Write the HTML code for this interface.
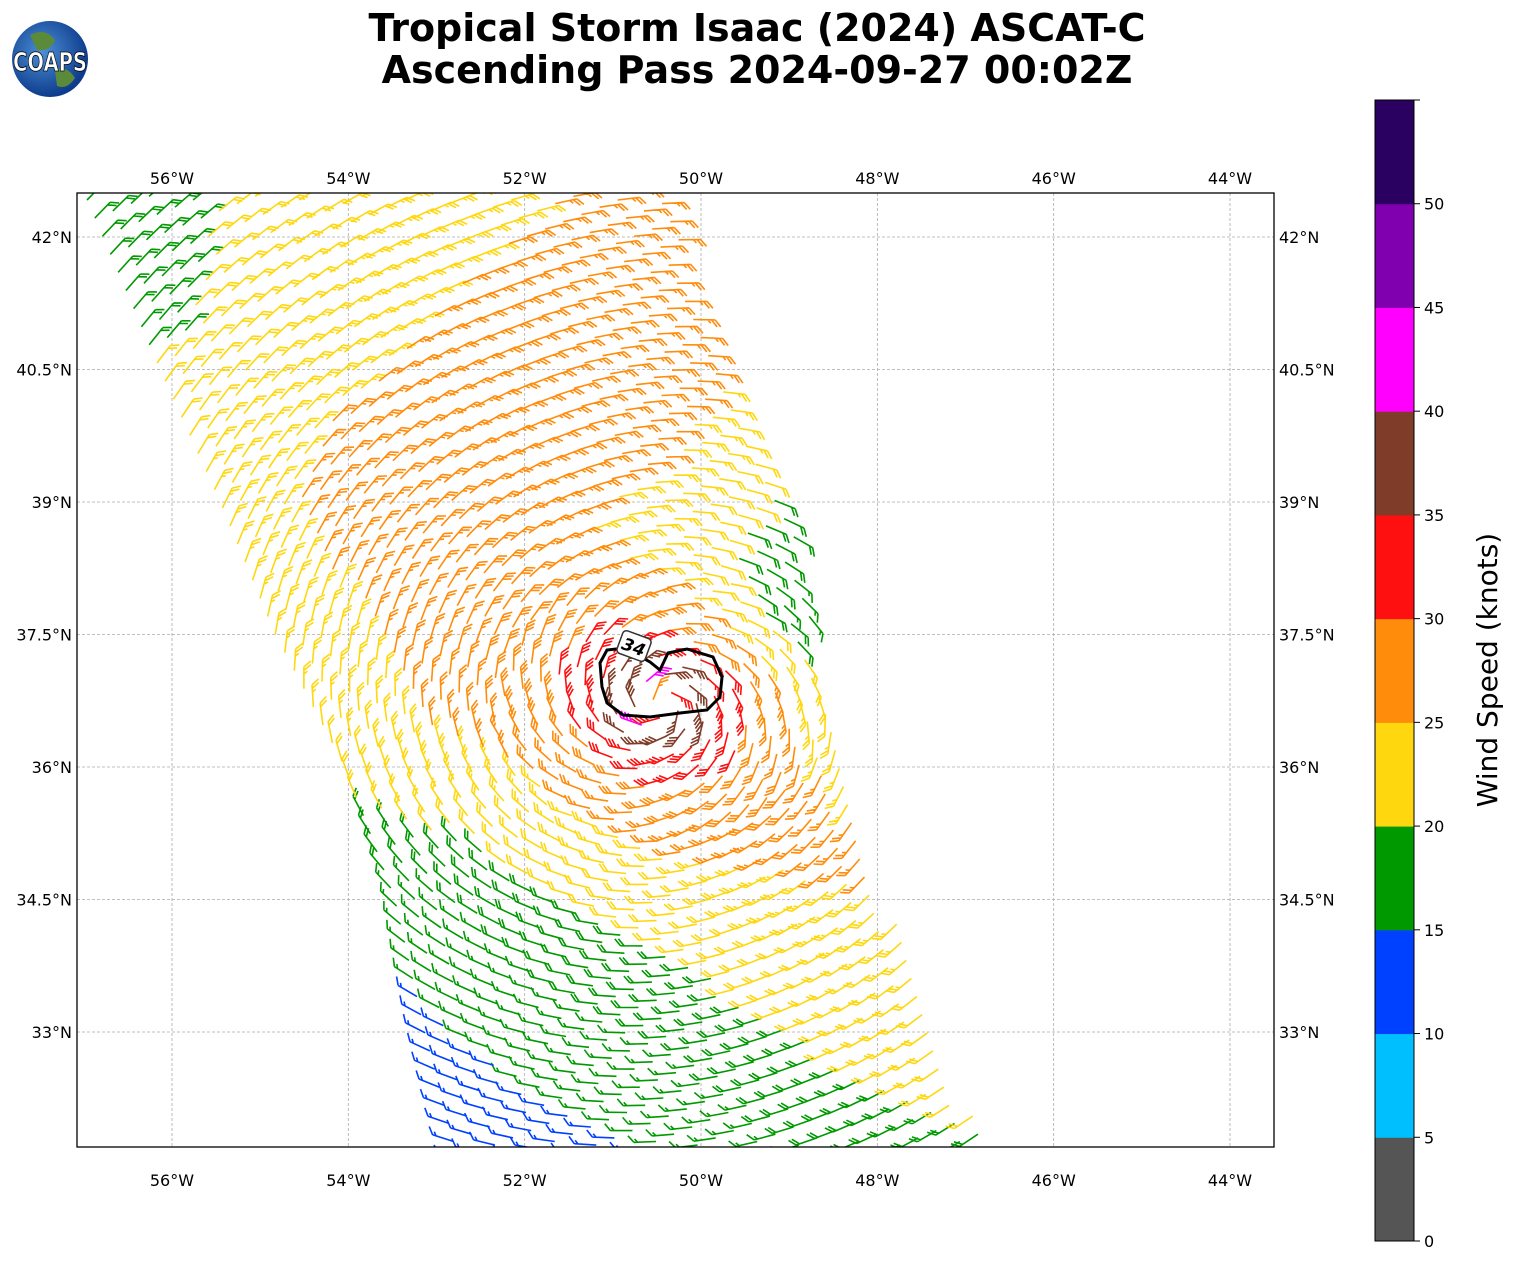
<!DOCTYPE html>
<html><head><meta charset="utf-8"><style>
body{margin:0;background:#fff;width:1513px;height:1264px;overflow:hidden;font-family:"DejaVu Sans","Liberation Sans",sans-serif;}
svg text{font-family:"DejaVu Sans","Liberation Sans",sans-serif;}
</style></head><body>
<svg id="chart" width="1513" height="1264" xmlns="http://www.w3.org/2000/svg">
<defs><clipPath id="plotclip"><rect x="77" y="193" width="1197" height="954"/></clipPath>
<radialGradient id="globe" cx="40%" cy="40%" r="60%"><stop offset="0" stop-color="#4d8fd6"/><stop offset="1" stop-color="#0d3c8c"/></radialGradient></defs>
<g>
<circle cx="50" cy="59" r="38" fill="url(#globe)"/>
<path d="M30 35 q15 -8 25 5 q-5 12 -18 10 z M55 70 q12 -5 20 8 q-8 12 -18 8 z" fill="#5b8a3a"/>
<text x="50" y="71" text-anchor="middle" font-size="26" font-weight="bold" fill="#fff" stroke="#000" stroke-width="0.8" textLength="74" lengthAdjust="spacingAndGlyphs">COAPS</text>
</g>
<text x="757" y="41" text-anchor="middle" font-size="38" font-weight="bold">Tropical Storm Isaac (2024) ASCAT-C</text>
<text x="757" y="83" text-anchor="middle" font-size="38" font-weight="bold">Ascending Pass 2024-09-27 00:02Z</text>
<g id="grid"></g>
<g id="barbs" clip-path="url(#plotclip)"></g>
<g>
<path d="M600 663 L607 650 L625 648 L650 662 L660 670 L668 653 L687 649 L713 657 L722 677 L720 697 L707 710 L680 713 L650 717 L623 715 L607 703 L602 687 Z" fill="none" stroke="#000" stroke-width="3"/>
<g transform="translate(634,646) rotate(20)"><rect x="-15" y="-12" width="30" height="24" rx="4" fill="#fff" stroke="#333" stroke-width="1.5"/><text x="0" y="7" text-anchor="middle" font-size="17" font-weight="bold" font-style="italic">34</text></g>
</g>
<rect x="77" y="193" width="1197" height="954" fill="none" stroke="#000" stroke-width="1.3"/>
<g id="ticks"></g>
<g id="cbar"></g>
<text transform="translate(1497,670) rotate(-90)" text-anchor="middle" font-size="28">Wind Speed (knots)</text>
</svg>
<script>
const lonTicks=[-56,-54,-52,-50,-48,-46,-44];
const latTicks=[33,34.5,36,37.5,39,40.5,42];
const cbarLevels=[0,5,10,15,20,25,30,35,40,45,50];
const cbarColors=["#555555","#00bfff","#0040ff","#009900","#ffd70f","#ff8c0a","#ff1010","#7f3c28","#ff00ff","#8000b0","#2a0060"];
const stormCenter=[-50.47,36.72];
const profileRadii=[0,0.25,0.45,0.7,1,1.5,2,3,4,5,6,8];
const speedE =[20,42,36,31,26,21,19,20,21,21,21,21];
const speedNE=[20,42,36,30,25,17,16,16,19,23,23,23];
const speedN =[20,42,36,31,28,24,23,26,27,27,26,24];
const speedNW=[20,42,36,32,30,28,28,27,26,23,20,17];
const speedW =[20,42,36,32,30,28,26,23,22,21,20,18];
const speedSW=[20,42,36,31,27,24,21,17,14,12,12,12];
const speedS =[20,42,36,32,29,26,22,19,17,15,15,15];
const speedSE=[20,42,36,32,30,29,27,25,24,23,22,20];
// swath edges (screen px): [y, x]
const leftEdge=[[-200,-80],[200,87],[370,160],[502,220],[634,275],[767,345],[899,395],[1032,425],[1147,455],[1500,560]];
const rightEdge=[[-200,575],[193,680],[370,727],[502,800],[634,825],[767,867],[899,900],[1032,957],[1147,995],[1500,1105]];
const NS="http://www.w3.org/2000/svg";
const X=lon=>701+(lon+50)*88.17, Y=lat=>237+(42-lat)*88.33;
const LON=x=>-50+(x-701)/88.17, LAT=y=>42-(y-237)/88.33;
function mk(tag,attrs,parent){const e=document.createElementNS(NS,tag);for(const k in attrs)e.setAttribute(k,attrs[k]);parent.appendChild(e);return e;}
const grid=document.getElementById('grid'),ticks=document.getElementById('ticks');
lonTicks.forEach(l=>{
 const g=mk('line',{x1:X(l),x2:X(l),y1:193,y2:1147,stroke:'#aaa','stroke-width':0.8,'stroke-dasharray':'3,2'},grid);
 
 
 const lab=(-l)+'°W';
 [[168,'top'],[1170,'bottom']].forEach(p=>{const t=mk('text',{x:X(l),y:p[0]+16,'text-anchor':'middle','font-size':16},ticks);t.textContent=lab;
 
 });
});
latTicks.forEach(l=>{
 const g=mk('line',{x1:77,x2:1274,y1:Y(l),y2:Y(l),stroke:'#aaa','stroke-width':0.8,'stroke-dasharray':'3,2'},grid);
 
 
 const lab=l+'°N';
 const t1=mk('text',{x:72,y:Y(l)+6,'text-anchor':'end','font-size':16},ticks);t1.textContent=lab;
 
 
 const t2=mk('text',{x:1279,y:Y(l)+6,'text-anchor':'start','font-size':16},ticks);t2.textContent=lab;
 
 
});
const cb=document.getElementById('cbar');const cbTop=100,cbBot=1241,nb=cbarColors.length,bh=(cbBot-cbTop)/nb;
cbarColors.forEach((c,i)=>{const r=mk('rect',{x:1375,y:cbBot-(i+1)*bh,width:39,height:bh+0.5,fill:c},cb);
 
 });
mk('rect',{x:1375,y:cbTop,width:39,height:cbBot-cbTop,fill:'none',stroke:'#000','stroke-width':1},cb);
cbarLevels.forEach((v,i)=>{const y=cbBot-i*bh;mk('line',{x1:1414,x2:1420,y1:y,y2:y,stroke:'#000'},cb);
 const t=mk('text',{x:1424,y:y+6,'font-size':16},cb);t.textContent=v;
 
 });
mk('line',{x1:1414,x2:1420,y1:cbTop,y2:cbTop,stroke:'#000'},cb);
function interp(arr,r){for(let i=1;i<profileRadii.length;i++){if(r<=profileRadii[i]){const f=(r-profileRadii[i-1])/(profileRadii[i]-profileRadii[i-1]);return arr[i-1]+f*(arr[i]-arr[i-1]);}}return arr[arr.length-1];}
function edgeX(edge,y){for(let i=1;i<edge.length;i++){if(y<=edge[i][0]){const f=(y-edge[i-1][0])/(edge[i][0]-edge[i-1][0]);return edge[i-1][1]+f*(edge[i][1]-edge[i-1][1]);}}return edge[edge.length-1][1];}
const dirProfiles=[speedE,speedNE,speedN,speedNW,speedW,speedSW,speedS,speedSE,speedE];
function speedAt(lon,lat){
 const dx=(lon-stormCenter[0])*Math.cos(37*Math.PI/180),dy=lat-stormCenter[1];
 const r=Math.hypot(dx,dy);let a=Math.atan2(dy,dx)*180/Math.PI;if(a<0)a+=360;
 const i=Math.min(7,Math.floor(a/45)),f=(a-i*45)/45;
 return {s:interp(dirProfiles[i],r)*(1-f)+interp(dirProfiles[i+1],r)*f,dx,dy,r};
}
const paths={};
const ux=0.4,uy=1,un=Math.hypot(ux,uy),U=[ux/un,uy/un],C=[U[1],-U[0]],sp=19.5;
for(let yL=200-sp*U[1]*2;yL<1400;yL+=sp*U[1]){
 const xL=edgeX(leftEdge,yL);
 for(let k=0;k<40;k++){
  const px=xL+k*sp*C[0],py=yL+k*sp*C[1];
  if(px>edgeX(rightEdge,py)-12)break;
  if(px<60||px>1285||py<180||py>1160)continue;
  const w=speedAt(LON(px),LAT(py));let spd=w.s;
  const rr=w.r||1e-3;const inflow=rr<1.5?0.25:0.05;
  let vx=(-w.dy-inflow*w.dx)/rr,vy=(w.dx-inflow*w.dy)/rr;
  let sx=-vx,sy=vy;const sn=Math.hypot(sx,sy);sx/=sn;sy/=sn;
  const L=22,tx=px+sx*L,ty=py+sy*L;
  const ang=50*Math.PI/180;
  const fx=sx*Math.cos(ang)-sy*Math.sin(ang),fy=sx*Math.sin(ang)+sy*Math.cos(ang);
  const ci=Math.min(nb-1,Math.floor(spd/5));const col=cbarColors[ci];
  let d=`M${px.toFixed(1)} ${py.toFixed(1)}L${tx.toFixed(1)} ${ty.toFixed(1)}`;
  let n=Math.round(spd/5);let full=Math.floor(n/2),half=n%2;let pos=0;
  for(let f=0;f<full;f++){const bx=tx-sx*pos,by=ty-sy*pos;d+=`M${bx.toFixed(1)} ${by.toFixed(1)}l${(fx*9).toFixed(1)} ${(fy*9).toFixed(1)}`;pos+=3.6;}
  if(half){if(full===0)pos=3.6;const bx=tx-sx*pos,by=ty-sy*pos;d+=`M${bx.toFixed(1)} ${by.toFixed(1)}l${(fx*4.5).toFixed(1)} ${(fy*4.5).toFixed(1)}`;}
  paths[col]=(paths[col]||'')+d;
 }
}
const bg=document.getElementById('barbs');
for(const c in paths){const p=mk('path',{d:paths[c],stroke:c,'stroke-width':1.6,fill:'none','stroke-linecap':'butt'},bg);
 
 }
</script>
</body></html>
